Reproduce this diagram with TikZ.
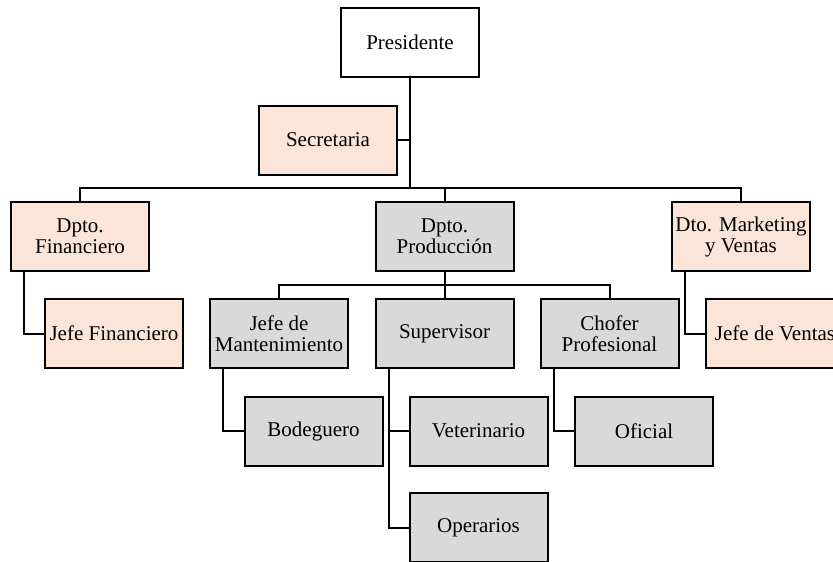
\documentclass[tikz,border=0pt]{standalone}
\usepackage{fontspec}
\setmainfont{Liberation Serif}
\usetikzlibrary{calc}
\definecolor{peach}{HTML}{FAE5D8}
\definecolor{greybox}{HTML}{D9D9D9}
\tikzset{
  box/.style={draw=black, line width=2pt, minimum width=138pt, minimum height=69pt,
    inner sep=0pt, align=center, font=\fontsize{21}{21}\selectfont},
  pbox/.style={box, fill=peach},
  gbox/.style={box, fill=greybox},
  wbox/.style={box, fill=white},
  conn/.style={line width=2pt, line cap=rect}
}
\begin{document}
\begin{tikzpicture}[x=1pt,y=-1pt]
\useasboundingbox (0,0) rectangle (833,562);
% nodes
\node[wbox] (pres) at (410,42.5) {Presidente};
\node[pbox] (sec)  at (328,140) {Secretaria};
\node[pbox] (fin)  at (80,236.5) {Dpto.\\Financiero};
\node[gbox] (prod) at (444.5,236.5) {Dpto.\\Producción};
\node[pbox] (mkt)  at (741,236.5) {Dto. Marketing\\y Ventas};
\node[pbox] (jfin) at (114,333.5) {Jefe Financiero};
\node[gbox] (jman) at (279,333.5) {Jefe de\\Mantenimiento};
\node[gbox] (sup)  at (444.5,333.5) {Supervisor};
\node[gbox] (chof) at (609.5,333.5) {Chofer\\Profesional};
\node[pbox] (jven) at (775,333.5) {Jefe de Ventas};
\node[gbox] (bod)  at (313.5,431) {Bodeguero};
\node[gbox] (vet)  at (478.5,431) {Veterinario};
\node[gbox] (ofi)  at (644,431) {Oficial};
\node[gbox] (ope)  at (478.5,527.5) {Operarios};
% bus coordinates
\coordinate (bus1) at (pres.south |- 0,188);
\coordinate (bus2) at (prod.south |- 0,285);
% top level
\draw[conn] (pres.south) -- (bus1);
\draw[conn] (sec.east) -- (sec.east -| pres.south);
\draw[conn] (fin.north) |- (bus1);
\draw[conn] (mkt.north) |- (bus1);
\draw[conn] (prod.north) -- (prod.north |- bus1);
% production
\draw[conn] (prod.south) -- (bus2);
\draw[conn] (jman.north) |- (bus2);
\draw[conn] (chof.north) |- (bus2);
\draw[conn] (sup.north) -- (sup.north |- bus2);
% side branches
\draw[conn] ($(fin.south west)+(14,0)$) |- (jfin.west);
\draw[conn] ($(mkt.south west)+(14,0)$) |- (jven.west);
\draw[conn] ($(jman.south west)+(14,0)$) |- (bod.west);
\draw[conn] ($(sup.south west)+(14,0)$) |- (vet.west);
\draw[conn] ($(sup.south west)+(14,0)$) |- (ope.west);
\draw[conn] ($(chof.south west)+(14,0)$) |- (ofi.west);
\end{tikzpicture}
\end{document}
